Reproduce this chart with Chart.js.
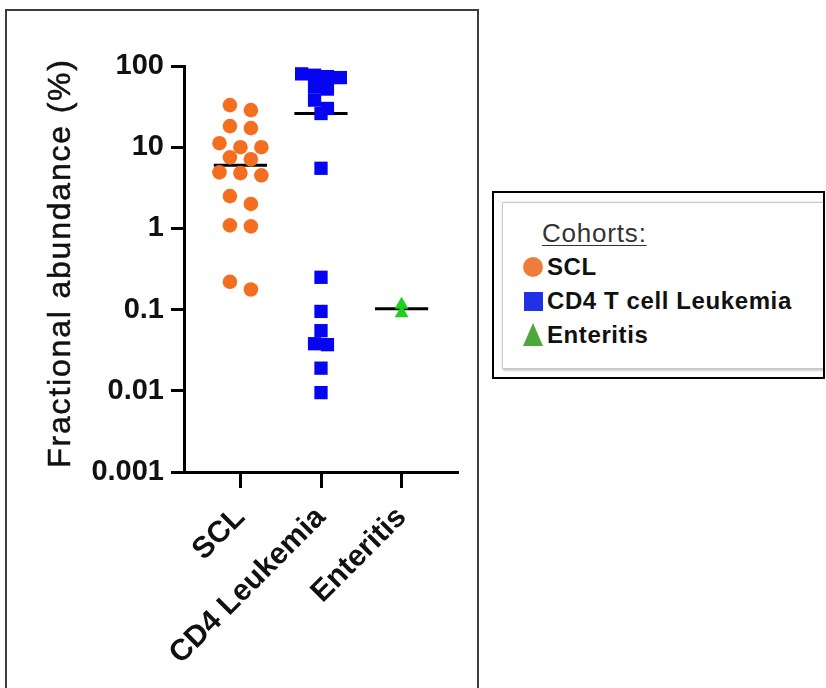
<!DOCTYPE html>
<html>
<head>
<meta charset="utf-8">
<script src="https://cdn.jsdelivr.net/npm/chart.js@4.4.1/dist/chart.umd.min.js"></script>
<style>
html, body { margin: 0; padding: 0; background: #fff; }
body { width: 826px; height: 688px; position: relative; overflow: hidden; font-family: 'Liberation Sans', Arial, sans-serif; }
#frame { position: absolute; left: 5px; top: 9px; width: 474px; height: 700px; border: 2px solid #3c3c3c; box-sizing: border-box; }
#plot { position: absolute; left: 0; top: 0; }
#legend { position: absolute; left: 492px; top: 191px; width: 333px; height: 188px; border: 2px solid #000; box-sizing: border-box; overflow: hidden; background: #fff; }
#legendInner { position: absolute; left: 8px; top: 9px; right: -4px; bottom: 8px; border: 1px solid #c8c8c8; box-shadow: 1px 1px 3px #aaa; }
#legend .head { position: absolute; left: 48px; top: 25px; font-size: 26px; color: #333; text-decoration: underline; text-decoration-thickness: 1px; text-underline-offset: 3px; letter-spacing: 0.8px; }
#legend .item { position: absolute; left: 53px; font-size: 24px; font-weight: bold; color: #111; letter-spacing: 0.6px; line-height: 28px; }
#legend .mark { position: absolute; }
</style>
</head>
<body>
<div id="frame"></div>
<canvas id="plot" width="826" height="688"></canvas>
<div id="legend"><div id="legendInner"></div><div class="head">Cohorts:</div></div>
<script>
// categories on the x axis and the legend names
const categories = ["SCL", "CD4 Leukemia", "Enteritis"];
const legendLabels = ["SCL", "CD4 T cell Leukemia", "Enteritis"];
const yTitle = "Fractional abundance (%)";

// fractional abundance (%) per sample
const sclValues = [33, 28.6, 18.2, 17.2, 11.2, 10, 10, 7.5, 7.1, 4.9, 4.8, 4.5, 2.5, 2.0, 1.09, 1.06, 0.22, 0.177];
const cd4Values = [80, 77, 74, 72, 55, 52, 38, 30, 26, 5.5, 0.25, 0.095, 0.055, 0.038, 0.037, 0.019, 0.0095];
const enteritisValues = [0.115, 0.09];

const yTickValues = [0.001, 0.01, 0.1, 1, 10, 100];
const yTickLabels = ["0.001", "0.01", "0.1", "1", "10", "100"];

const plotColors = ["#F36F1F", "#0505F2", "#1FCF22"];
const legendColors = ["#ED7D3A", "#2131E6", "#4DA83A"];

// spread points of similar value sideways (rows in log space)
function swarm(values, center, rowGap, step) {
	const sorted = values.slice().sort((a, b) => b - a);
	const pts = [];
	let row = [];
	const flush = () => {
		row.forEach((v, i) => pts.push({ x: center + (i - (row.length - 1) / 2) * step, y: v }));
		row = [];
	};
	sorted.forEach(v => {
		if (row.length && Math.log10(row[0]) - Math.log10(v) > rowGap) flush();
		row.push(v);
	});
	flush();
	return pts;
}

function median(a) {
	const s = a.slice().sort((x, y) => x - y);
	const m = s.length >> 1;
	return s.length % 2 ? s[m] : (s[m - 1] + s[m]) / 2;
}

function medianLine(values, center) {
	const m = median(values);
	return {
		type: "line",
		data: [{ x: center - 0.33, y: m }, { x: center + 0.33, y: m }],
		borderColor: "#000",
		borderWidth: 3,
		pointRadius: 0,
		showLine: true,
		order: 2,
		clip: false,
	};
}

const yTitlePlugin = {
	id: "yTitle",
	afterDraw(chart) {
		const ctx = chart.ctx;
		const area = chart.chartArea;
		ctx.save();
		ctx.font = "32px 'Liberation Sans', Arial, sans-serif";
		ctx.fillStyle = "#111";
		ctx.letterSpacing = "1.8px";
		ctx.textAlign = "center";
		ctx.textBaseline = "alphabetic";
		ctx.translate(area.left - 114, (area.top + area.bottom) / 2 - 6);
		ctx.rotate(-Math.PI / 2);
		ctx.fillText(yTitle, 0, 0);
		// slight second pass to thicken strokes like the reference
		ctx.strokeStyle = "#111";
		ctx.lineWidth = 0.5;
		ctx.strokeText(yTitle, 0, 0);
		ctx.restore();
	},
};

const ctx = document.getElementById("plot").getContext("2d");
new Chart(ctx, {
	type: "scatter",
	data: {
		datasets: [
			{
				label: legendLabels[0],
				data: swarm(sclValues, 1, 0.17, 0.26),
				pointStyle: "circle",
				pointRadius: 7.3,
				pointBackgroundColor: plotColors[0],
				pointBorderColor: plotColors[0],
				pointBorderWidth: 0,
				order: 1,
				clip: false,
			},
			{
				label: legendLabels[1],
				data: swarm(cd4Values, 2, 0.15, 0.16),
				pointStyle: "rect",
				pointRadius: 9.4,
				pointBackgroundColor: plotColors[1],
				pointBorderColor: plotColors[1],
				pointBorderWidth: 0,
				order: 1,
				clip: false,
			},
			{
				label: legendLabels[2],
				data: swarm(enteritisValues, 3, 0.17, 0),
				pointStyle: "triangle",
				pointRadius: 8,
				pointBackgroundColor: plotColors[2],
				pointBorderColor: plotColors[2],
				pointBorderWidth: 0,
				order: 1,
				clip: false,
			},
			medianLine(sclValues, 1),
			medianLine(cd4Values, 2),
			medianLine(enteritisValues, 3),
		],
	},
	options: {
		responsive: false,
		animation: false,
		devicePixelRatio: 1,
		layout: { padding: { left: 0, top: 66, right: 368, bottom: 0 } },
		plugins: { legend: { display: false }, tooltip: { enabled: false } },
		scales: {
			x: {
				type: "linear",
				min: 0.3,
				max: 3.7,
				afterBuildTicks: s => { s.ticks = categories.map((c, i) => ({ value: i + 1 })); },
				afterFit: s => { s.height = 216; },
				ticks: {
					callback: v => categories[v - 1],
					autoSkip: false,
					minRotation: 45,
					maxRotation: 45,
					padding: 12,
					color: "#111",
					font: { family: "'Liberation Sans', Arial, sans-serif", size: 30, weight: "bold" },
				},
				grid: { display: true, drawOnChartArea: false, drawTicks: true, tickLength: 16, tickWidth: 3, tickColor: "#000" },
				border: { display: true, color: "#000", width: 3 },
			},
			y: {
				type: "logarithmic",
				min: 0.001,
				max: 100,
				afterBuildTicks: s => { s.ticks = yTickValues.map(v => ({ value: v })); },
				afterFit: s => { s.width = 184; },
				ticks: {
					callback: v => yTickLabels[yTickValues.indexOf(v)],
					padding: 7,
					color: "#111",
					font: { family: "'Liberation Sans', Arial, sans-serif", size: 29, weight: "bold" },
				},
				grid: { display: true, drawOnChartArea: false, drawTicks: true, tickLength: 13, tickWidth: 3, tickColor: "#000" },
				border: { display: true, color: "#000", width: 3 },
			},
		},
	},
	plugins: [yTitlePlugin],
});

// legend built from the same names and colours
const legend = document.getElementById("legend");
legendLabels.forEach((name, i) => {
	const cy = 74 + i * 34;
	const mark = document.createElement("div");
	mark.className = "mark";
	if (i === 0) {
		Object.assign(mark.style, { left: "29px", top: cy - 10 + "px", width: "20px", height: "20px", borderRadius: "50%", background: legendColors[i] });
	} else if (i === 1) {
		Object.assign(mark.style, { left: "30px", top: cy - 9 + "px", width: "19px", height: "19px", background: legendColors[i] });
	} else {
		Object.assign(mark.style, { left: "29px", top: cy - 12 + "px", width: "0", height: "0", borderLeft: "10px solid transparent", borderRight: "10px solid transparent", borderBottom: "23px solid " + legendColors[i] });
	}
	legend.appendChild(mark);
	const item = document.createElement("div");
	item.className = "item";
	item.style.top = cy - 14 + "px";
	item.textContent = name;
	legend.appendChild(item);
});
</script>
</body>
</html>
